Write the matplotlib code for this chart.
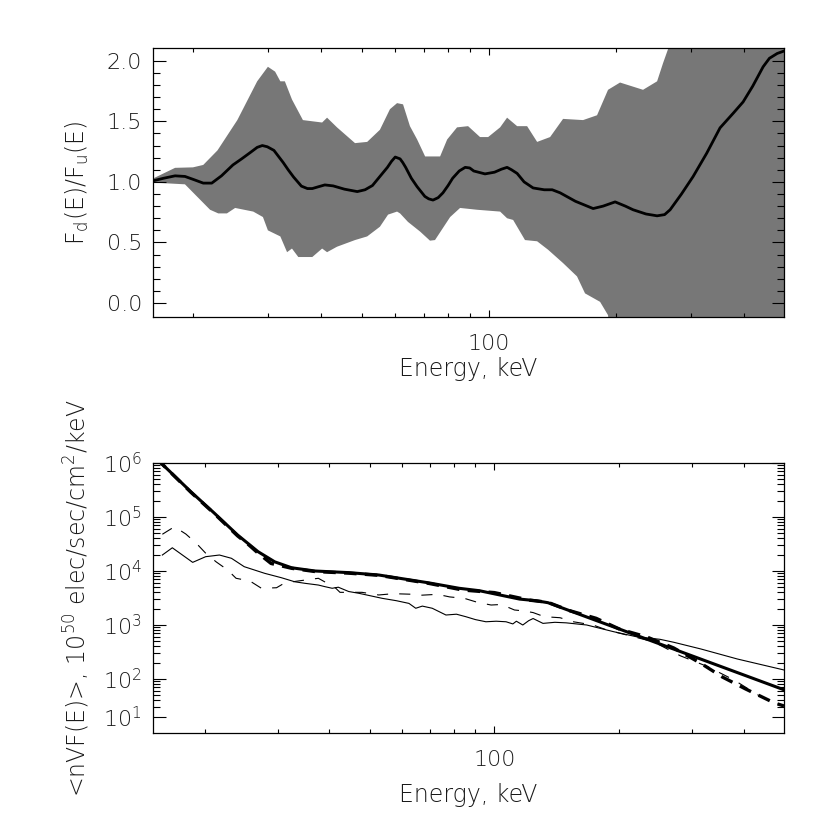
"""Ratio of downward/upward electron spectra (top) and mean electron flux spectra (bottom)."""
import numpy as np
import matplotlib

matplotlib.use("Agg")
import matplotlib.pyplot as plt
from matplotlib.ticker import FixedLocator, NullFormatter, FixedFormatter

plt.rcParams["font.family"] = ["DejaVu Sans"]
plt.rcParams["font.weight"] = "light"
plt.rcParams["axes.labelweight"] = "light"
plt.rcParams["mathtext.fontset"] = "custom"
plt.rcParams["mathtext.rm"] = "DejaVu Sans:light"
plt.rcParams["mathtext.it"] = "DejaVu Sans:light"
plt.rcParams["mathtext.default"] = "rm"
plt.rcParams["lines.scale_dashes"] = False

TXT = "#1a1a1a"
FS = 16
LFS = 17

# --- top panel: F_d/F_u ratio and its uncertainty band ---
e_ratio = [16.1, 17.0, 18.1, 19.1, 20.0, 21.1, 22.1, 23.3, 24.8, 26.0, 27.2, 28.3, 29.1,
           29.9, 31.0, 32.6, 33.5, 34.5, 36.0, 37.2, 38.2, 39.5, 40.9, 42.8, 45.5, 48.8,
           50.9, 53.0, 55.2, 57.5, 58.8, 60.0, 61.6, 62.5, 63.5, 65.5, 67.6, 70.5, 72.0,
           73.7, 75.8, 77.8, 80.0, 82.0, 85.0, 87.8, 90.0, 92.0, 97.8, 103.0, 107.0, 110.3,
           113.0, 116.5, 121.0, 127.1, 135.0, 141.0, 147.2, 160.0, 176.2, 186.0, 198.6,
           210.0, 219.0, 235.0, 249.6, 260.0, 267.9, 285.0, 303.6, 327.0, 351.6, 378.0,
           398.6, 420.0, 444.5, 460.0, 480.0, 498.0]
ratio = [1.01, 1.03, 1.05, 1.045, 1.02, 0.99, 0.99, 1.05, 1.14, 1.19, 1.24, 1.285, 1.30,
         1.29, 1.26, 1.16, 1.10, 1.04, 0.965, 0.945, 0.945, 0.96, 0.975, 0.967, 0.94, 0.92,
         0.935, 0.97, 1.045, 1.12, 1.17, 1.205, 1.19, 1.16, 1.12, 1.03, 0.96, 0.88, 0.86,
         0.85, 0.87, 0.91, 0.97, 1.03, 1.09, 1.12, 1.115, 1.09, 1.066, 1.08, 1.105, 1.12,
         1.10, 1.07, 1.00, 0.95, 0.935, 0.935, 0.91, 0.84, 0.78, 0.80, 0.835,
         0.80, 0.77, 0.735, 0.72, 0.73, 0.77, 0.90, 1.044, 1.237, 1.446, 1.568,
         1.66, 1.79, 1.95, 2.02, 2.06, 2.08]

e_upper = [16.1, 18.1, 19.95, 21.1, 22.8, 25.4, 28.3, 30.0, 31.2, 32.1, 32.9, 34.2, 36.3,
           40.3, 41.4, 43.7, 48.2, 51.5, 55.2, 58.3, 60.6, 62.6, 65.0, 67.6, 70.6, 76.6,
           79.6, 84.0, 89.2, 95.2, 99.5, 106.2, 110.3, 116.5, 123.0, 129.9, 139.4, 149.6,
           166.8, 180.0, 191.1, 204.0, 231.2, 249.6, 257.8, 266.4, 300.0, 498.0]
upper = [1.03, 1.116, 1.12, 1.14, 1.26, 1.51, 1.83, 1.95, 1.91, 1.83, 1.83, 1.68, 1.51,
         1.49, 1.53, 1.45, 1.32, 1.33, 1.43, 1.60, 1.65, 1.64, 1.46, 1.35, 1.21, 1.21,
         1.35, 1.45, 1.46, 1.37, 1.37, 1.45, 1.53, 1.46, 1.46, 1.33, 1.37, 1.52,
         1.51, 1.55, 1.76, 1.82, 1.76, 1.83, 1.98, 2.12, 3.0, 3.0]

e_lower = [16.1, 19.1, 21.9, 22.9, 24.0, 25.1, 27.7, 29.2, 30.0, 32.1, 33.3, 34.2, 35.4,
           38.2, 40.3, 41.4, 43.7, 48.2, 51.5, 55.2, 57.7, 60.6, 61.6, 64.3, 68.7, 72.5,
           74.5, 80.9, 85.4, 93.7, 106.2, 110.3, 114.0, 121.6, 129.9, 137.9, 149.6, 161.4,
           168.6, 183.0, 191.1, 200.0, 498.0]
lower = [0.994, 0.98, 0.77, 0.74, 0.74, 0.785, 0.755, 0.71, 0.60, 0.55, 0.42, 0.45, 0.38,
         0.38, 0.45, 0.42, 0.465, 0.52, 0.55, 0.63, 0.73, 0.755, 0.74, 0.67, 0.59, 0.515,
         0.52, 0.71, 0.785, 0.77, 0.755, 0.70, 0.686, 0.52, 0.51, 0.44, 0.33, 0.22,
         0.08, 0.01, -0.10, -1.0, -1.0]

# --- bottom panel: mean electron flux spectra (log10 of value) ---
e_fit = [15.3, 18.5, 21.1, 24.0, 26.9, 29.5, 32.4, 36.9, 44.5, 52.6, 69.5, 82.2, 92.0,
         115.0, 126.0, 134.7, 500.0]
log_fit = [6.08, 5.47, 5.07, 4.667, 4.357, 4.17, 4.06, 4.0, 3.97, 3.926, 3.78, 3.68, 3.635,
           3.48, 3.45, 3.413, 1.80]

e_fit2 = [15.3, 18.5, 21.1, 24.0, 25.4, 26.9, 28.9, 32.4, 36.9, 44.5, 52.6, 69.5, 83.8,
          100.0, 121.6, 134.7, 152.0, 176.0, 201.0, 233.0, 271.0, 315.0, 355.0, 404.0,
          473.0, 500.0]
log_fit2 = [6.08, 5.46, 5.06, 4.65, 4.50, 4.33, 4.14, 4.05, 3.99, 3.96, 3.92, 3.77, 3.648,
            3.60, 3.46, 3.42, 3.265, 3.124, 2.92, 2.78, 2.574, 2.29, 2.037, 1.815,
            1.56, 1.50]

e_data = [15.8, 16.7, 18.7, 20.1, 21.7, 23.2, 24.9, 27.9, 30.6, 33.0, 34.9, 37.6, 39.0,
          40.6, 42.0, 44.5, 47.1, 53.6, 58.0, 62.2, 64.6, 67.0, 70.8, 76.4, 81.0, 85.3,
          90.0, 95.4, 101.0, 106.7, 110.8, 113.0, 117.1, 121.0, 124.0, 131.0, 140.0,
          149.0, 167.0, 194.0, 221.0, 251.0, 271.0, 315.0, 386.0, 500.0]
log_data = [4.296, 4.43, 4.16, 4.265, 4.296, 4.235, 4.08, 3.957, 3.876, 3.80, 3.772, 3.74,
            3.71, 3.68, 3.70, 3.62, 3.587, 3.494, 3.45, 3.40, 3.31, 3.35, 3.31, 3.185,
            3.20, 3.154, 3.10, 3.06, 3.07, 3.06, 3.02, 3.07, 3.00, 3.08, 3.12, 3.03, 3.05,
            3.04, 3.00, 2.876, 2.78, 2.735, 2.68, 2.556, 2.37, 2.167]

e_data2 = [15.8, 16.9, 18.0, 19.1, 20.1, 21.3, 22.7, 23.8, 25.7, 27.4, 29.8, 31.2, 33.6,
           37.6, 41.3, 42.4, 47.9, 52.6, 57.0, 62.9, 66.0, 72.9, 78.0, 84.6, 91.0, 98.2,
           104.0, 111.8, 118.0, 124.0, 132.0, 144.0, 155.0, 173.0, 187.0, 201.0, 242.0,
           281.0, 327.0, 379.0, 440.0, 500.0]
log_data2 = [4.68, 4.82, 4.685, 4.51, 4.33, 4.17, 4.02, 3.865, 3.815, 3.68, 3.69, 3.78,
             3.815, 3.865, 3.69, 3.605, 3.605, 3.556, 3.58, 3.57, 3.55, 3.568, 3.52, 3.494,
             3.42, 3.37, 3.38, 3.278, 3.26, 3.23, 3.154, 3.135, 3.06, 3.0, 2.907, 2.846,
             2.69, 2.43, 2.23, 1.98, 1.67, 1.50]

ratio_ticks = [0.0, 0.5, 1.0, 1.5, 2.0]
flux_ticks = [20, 1e2, 1e3, 1e4, 1e5, 1e6]
flux_labels = ["$10^1$", "$10^2$", "$10^3$", "$10^4$", "$10^5$", "$10^6$"]
energy_minor = [20, 30, 40, 50, 60, 70, 80, 90, 200, 300, 400]

fig = plt.figure(figsize=(8.3, 8.3), dpi=100)
W, H = 830, 830


def axes_px(x0, y0, x1, y1):
    return fig.add_axes([x0 / W, 1 - y1 / H, (x1 - x0) / W, (y1 - y0) / H])


def style_energy_axis(ax):
    ax.set_xscale("log")
    ax.xaxis.set_major_locator(FixedLocator([100]))
    ax.xaxis.set_major_formatter(FixedFormatter(["100"]))
    ax.xaxis.set_minor_locator(FixedLocator(energy_minor))
    ax.xaxis.set_minor_formatter(NullFormatter())
    ax.tick_params(axis="x", which="major", direction="in", length=5, width=0.8,
                   top=True, pad=12, labelsize=FS, labelcolor=TXT)
    ax.tick_params(axis="x", which="minor", direction="in", length=3, width=0.8, top=True)
    ax.tick_params(axis="y", which="major", direction="in", length=9, width=0.8,
                   right=True, pad=8, labelsize=FS, labelcolor=TXT)
    ax.tick_params(axis="y", which="minor", direction="in", length=5, width=0.8, right=True)
    for s in ax.spines.values():
        s.set_linewidth(0.9)
    ax.set_xlabel("Energy, keV", fontsize=LFS, color=TXT)


# top panel
ax1 = axes_px(153, 48, 784, 317)
band_x = np.r_[e_upper, e_lower[::-1]]
band_y = np.r_[upper, lower[::-1]]
ax1.fill(band_x, band_y, color="#777777", lw=0)
ax1.plot(e_ratio, ratio, color="black", lw=2.0)
style_energy_axis(ax1)
ax1.set_xlim(16.05, 498)
ax1.set_ylim(-0.115, 2.105)
ax1.yaxis.set_major_locator(FixedLocator(ratio_ticks))
ax1.yaxis.set_major_formatter(FixedFormatter([f"{v:.1f}" for v in ratio_ticks]))
ax1.yaxis.set_minor_locator(FixedLocator(np.arange(0.0, 2.05, 0.1)))
ax1.set_ylabel(r"F$_d$(E)/F$_u$(E)", fontsize=LFS, color=TXT, va="center")
ax1.yaxis.set_label_coords((77 - 153) / 631, 0.5)
ax1.xaxis.set_label_coords(0.5, (317 - 357) / 269)

# bottom panel
ax2 = axes_px(153, 463, 784, 733)
ax2.plot(e_data, 10 ** np.array(log_data), color="black", lw=0.8)
ax2.plot(e_data2, 10 ** np.array(log_data2), color="black", lw=0.8, dashes=(8, 8))
ax2.plot(e_fit2, 10 ** np.array(log_fit2), color="black", lw=2.4, dashes=(9, 6))
ax2.plot(e_fit, 10 ** np.array(log_fit), color="black", lw=2.2)
style_energy_axis(ax2)
ax2.set_yscale("log")
ax2.set_xlim(15.0, 500)
ax2.set_ylim(10, 1e6)
ax2.yaxis.set_major_locator(FixedLocator(flux_ticks))
ax2.yaxis.set_major_formatter(FixedFormatter(flux_labels))
minor = [m * 10 ** k for k in range(1, 6) for m in range(2, 10)]
ax2.yaxis.set_minor_locator(FixedLocator(minor))
ax2.yaxis.set_minor_formatter(NullFormatter())
ax2.set_ylabel(r"<nVF(E)>, 10$^{50}$ elec/sec/cm$^2$/keV", fontsize=LFS, color=TXT,
               va="center")
ax2.yaxis.set_label_coords((77 - 153) / 631, 0.5)
ax2.xaxis.set_label_coords(0.5, (733 - 783) / 270)

fig.savefig("out.png", dpi=100)
